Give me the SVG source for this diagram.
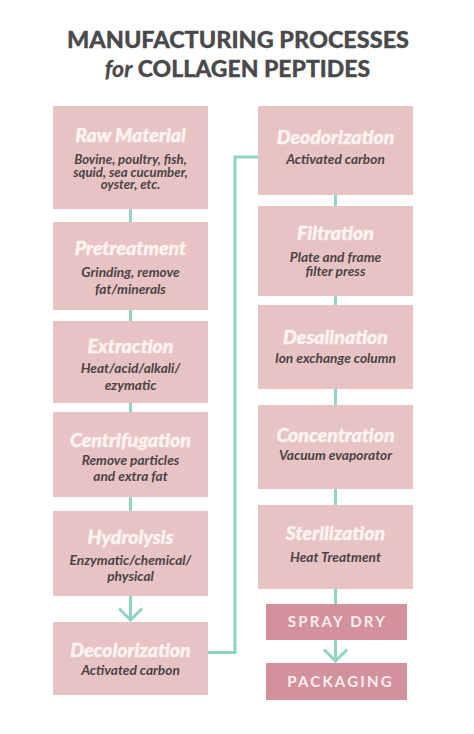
<svg xmlns="http://www.w3.org/2000/svg" width="474" height="734" viewBox="0 0 474 734">
<style>
.bg{fill:#ffffff}
.box{fill:#e7c3c3}
.dbox{fill:#d3919c}
.h{font-family:Lato,"Open Sans","DejaVu Sans",sans-serif;font-weight:900;font-style:italic;font-size:19.5px;fill:#fdf3f1;stroke:#fdf3f1;stroke-width:0.4;text-anchor:middle}
.s{font-family:Lato,"Open Sans","DejaVu Sans",sans-serif;font-weight:700;font-style:italic;font-size:13.7px;fill:#4b4347;text-anchor:middle}
.s2{font-size:13.2px}
.cap{font-family:Lato,"Open Sans","DejaVu Sans",sans-serif;font-weight:700;font-size:15px;letter-spacing:2.2px;fill:#fbeeee;text-anchor:middle}
.title{font-family:Lato,"Open Sans","DejaVu Sans",sans-serif;font-weight:900;font-size:23px;fill:#4a4a4c;stroke:#4a4a4c;stroke-width:0.3;text-anchor:middle}
.ln{fill:none;stroke:#8fd4c2;stroke-width:3}
</style>
<defs>
<marker id="chev" markerUnits="userSpaceOnUse" viewBox="-2 -14 16 28" markerWidth="16" markerHeight="28" refX="12" refY="0" orient="auto">
<path d="M0.5,-11.5 L12,0 L0.5,11.5" fill="none" stroke="#8fd4c2" stroke-width="3"/>
</marker>
</defs>
<rect class="bg" x="0" y="0" width="474" height="734"/>
<g id="title">
<text class="title" x="238" y="48" textLength="342" lengthAdjust="spacingAndGlyphs">MANUFACTURING PROCESSES</text>
<text class="title" x="237.5" y="77"><tspan font-style="italic" font-weight="700">for</tspan> COLLAGEN PEPTIDES</text>
</g>
<g id="connectors">
<line class="ln" x1="130.5" y1="209" x2="130.5" y2="222"/>
<line class="ln" x1="130.5" y1="310" x2="130.5" y2="321"/>
<line class="ln" x1="130.5" y1="403" x2="130.5" y2="412"/>
<line class="ln" x1="130.5" y1="497" x2="130.5" y2="511"/>
<line class="ln" x1="130.5" y1="596" x2="130.5" y2="620" marker-end="url(#chev)"/>
<polyline class="ln" points="208,652.5 235,652.5 235,157 258,157"/>
<line class="ln" x1="335.5" y1="195" x2="335.5" y2="206"/>
<line class="ln" x1="335.5" y1="296" x2="335.5" y2="305"/>
<line class="ln" x1="335.5" y1="389" x2="335.5" y2="405"/>
<line class="ln" x1="335.5" y1="489" x2="335.5" y2="505"/>
<line class="ln" x1="335.5" y1="589" x2="335.5" y2="604"/>
<line class="ln" x1="335.5" y1="640" x2="335.5" y2="661" marker-end="url(#chev)"/>
</g>
<g id="raw-material">
<rect class="box" x="53" y="106" width="155" height="103"/>
<text class="h" x="130.5" y="142">Raw Material</text>
<text class="s s2" x="130.5" y="164">Bovine, poultry, fish,</text>
<text class="s s2" x="130.5" y="176.5">squid, sea cucumber,</text>
<text class="s s2" x="130.5" y="189">oyster, etc.</text>
</g>
<g id="pretreatment">
<rect class="box" x="53" y="222" width="155" height="88"/>
<text class="h" x="130.5" y="255">Pretreatment</text>
<text class="s" x="130.5" y="277">Grinding, remove</text>
<text class="s" x="130.5" y="294">fat/minerals</text>
</g>
<g id="extraction">
<rect class="box" x="53" y="321" width="155" height="82"/>
<text class="h" x="130.5" y="353">Extraction</text>
<text class="s" x="130.5" y="373">Heat/acid/alkali/</text>
<text class="s" x="130.5" y="390">ezymatic</text>
</g>
<g id="centrifugation">
<rect class="box" x="53" y="412" width="155" height="85"/>
<text class="h" x="130.5" y="447">Centrifugation</text>
<text class="s" x="130.5" y="465">Remove particles</text>
<text class="s" x="130.5" y="481">and extra fat</text>
</g>
<g id="hydrolysis">
<rect class="box" x="53" y="511" width="155" height="85"/>
<text class="h" x="130.5" y="544">Hydrolysis</text>
<text class="s" x="130.5" y="565">Enzymatic/chemical/</text>
<text class="s" x="130.5" y="581">physical</text>
</g>
<g id="decolorization">
<rect class="box" x="53" y="622" width="155" height="73"/>
<text class="h" x="130.5" y="657">Decolorization</text>
<text class="s" x="130.5" y="675">Activated carbon</text>
</g>
<g id="deodorization">
<rect class="box" x="258" y="106" width="155" height="89"/>
<text class="h" x="335.5" y="144">Deodorization</text>
<text class="s" x="335.5" y="164">Activated carbon</text>
</g>
<g id="filtration">
<rect class="box" x="258" y="206" width="155" height="90"/>
<text class="h" x="335.5" y="240">Filtration</text>
<text class="s" x="335.5" y="262">Plate and frame</text>
<text class="s" x="335.5" y="276">filter press</text>
</g>
<g id="desalination">
<rect class="box" x="258" y="305" width="155" height="84"/>
<text class="h" x="335.5" y="344">Desalination</text>
<text class="s" x="335.5" y="363">Ion exchange column</text>
</g>
<g id="concentration">
<rect class="box" x="258" y="405" width="155" height="84"/>
<text class="h" x="335.5" y="442">Concentration</text>
<text class="s" x="335.5" y="460">Vacuum evaporator</text>
</g>
<g id="sterilization">
<rect class="box" x="258" y="505" width="155" height="84"/>
<text class="h" x="335.5" y="540">Sterilization</text>
<text class="s" x="335.5" y="562">Heat Treatment</text>
</g>
<g id="spray-dry">
<rect class="dbox" x="266" y="604" width="141" height="36"/>
<text class="cap" x="337.5" y="627">SPRAY DRY</text>
</g>
<g id="packaging">
<rect class="dbox" x="266" y="663" width="141" height="37"/>
<text class="cap" x="340.5" y="687">PACKAGING</text>
</g>
</svg>
